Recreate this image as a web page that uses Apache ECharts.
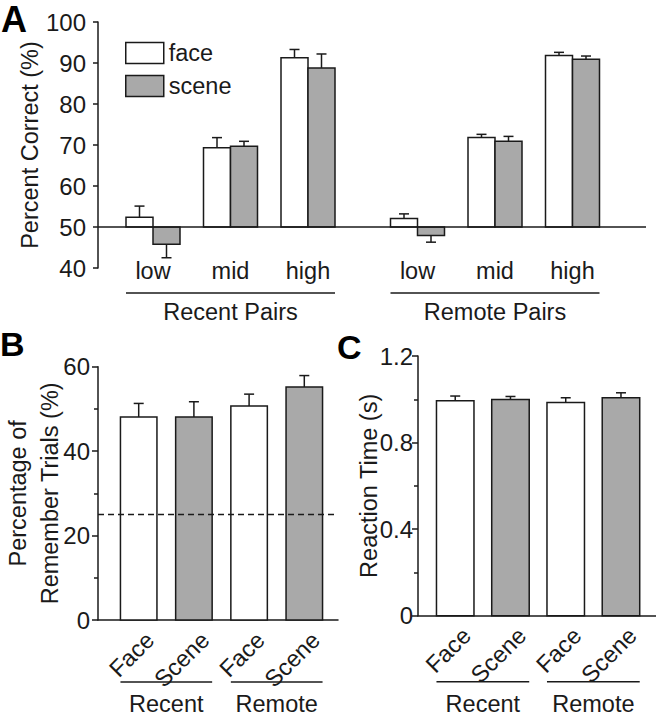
<!DOCTYPE html>
<html>
<head>
<meta charset="utf-8">
<script src="https://cdn.jsdelivr.net/npm/echarts@6/dist/echarts.min.js"></script>
<style>
html,body{margin:0;padding:0;background:#fff;}
#c{width:656px;height:719px;}
</style>
</head>
<body>
<div id="c"></div>
<script>
// ---------- Panel A data ----------
const levels = ['low', 'mid', 'high'];
const groupsA = ['Recent Pairs', 'Remote Pairs'];
const recentFace = [52.4, 69.3, 91.3];
const recentFaceErr = [2.7, 2.5, 2.0];
const recentScene = [45.8, 69.7, 88.8];
const recentSceneErr = [3.3, 1.2, 3.4];
const remoteFace = [52.1, 71.8, 91.8];
const remoteFaceErr = [1.1, 0.8, 0.8];
const remoteScene = [47.9, 70.9, 90.9];
const remoteSceneErr = [1.6, 1.2, 0.8];
const chanceA = 50;

// ---------- Panel B data ----------
const conditions = ['Face', 'Scene', 'Face', 'Scene'];
const sessions = ['Recent', 'Remote'];
const rememberPct = [48.1, 48.1, 50.7, 55.2];
const rememberErr = [3.2, 3.6, 2.8, 2.7];
const chanceB = 25;

// ---------- Panel C data ----------
const reactionTime = [0.993, 0.999, 0.985, 1.007];
const reactionErr = [0.022, 0.014, 0.022, 0.023];

// ---------- styling ----------
const FONT = "'Liberation Sans', Arial, Helvetica, sans-serif";
const INK = '#1a1a1a';
const GREY = '#a9a9a9';
const WHITE = '#ffffff';
const LW = 1.5;
const FS = 23.5;
const TFS = 24;

function barItem(api, i, v, e, base, cxOff, bw, cap, fill) {
  const top = api.coord([i, v]);
  const bot = api.coord([i, base]);
  const cx = top[0] + cxOff;
  const dir = v >= base ? 1 : -1;
  const ye = api.coord([i, v + dir * e])[1];
  return {
    type: 'group',
    children: [
      { type: 'rect', shape: { x: cx - bw / 2, y: Math.min(top[1], bot[1]), width: bw, height: Math.abs(bot[1] - top[1]) },
        style: { fill: fill, stroke: INK, lineWidth: LW } },
      { type: 'line', shape: { x1: cx, y1: top[1], x2: cx, y2: ye }, style: { stroke: INK, lineWidth: LW } },
      { type: 'line', shape: { x1: cx - cap / 2, y1: ye, x2: cx + cap / 2, y2: ye }, style: { stroke: INK, lineWidth: LW } }
    ]
  };
}

function pairBar(side, fill, base, bw, cap) {
  return function (params, api) {
    return barItem(api, api.value(0), api.value(1), api.value(2), base, side * bw / 2, bw, cap, fill);
  };
}

function singleBar(bw, cap) {
  return function (params, api) {
    const i = api.value(0);
    const fill = conditions[params.dataIndex] === 'Face' ? WHITE : GREY;
    return barItem(api, i, api.value(1), api.value(2), 0, 0, bw, cap, fill);
  };
}

function bracket(names, half, dyLine, dyText, size) {
  return function (params, api) {
    const cs = params.coordSys;
    const yb = cs.y + cs.height;
    const x0 = api.coord([api.value(0), 0])[0] - half;
    const x1 = api.coord([api.value(1), 0])[0] + half;
    return {
      type: 'group',
      children: [
        { type: 'line', shape: { x1: x0, y1: yb + dyLine, x2: x1, y2: yb + dyLine }, style: { stroke: INK, lineWidth: LW } },
        { type: 'text', x: (x0 + x1) / 2, y: yb + dyText,
          style: { text: names[params.dataIndex], fill: INK, fontSize: size, fontFamily: FONT, align: 'center', verticalAlign: 'middle' } }
      ]
    };
  };
}

const axisLine = { show: true, onZero: false, lineStyle: { color: INK, width: LW } };
const tickStyle = { color: INK, width: LW };
const hiddenY = (g, min, max) => ({ gridIndex: g, type: 'value', min: min, max: max, show: false });
const hiddenCat = (g, data) => ({ gridIndex: g, type: 'category', data: data, show: false });
const rotCat = (g) => ({
  gridIndex: g, type: 'category', data: conditions,
  axisLine: { show: false }, axisTick: { show: false },
  axisLabel: { rotate: 45, interval: 0, fontSize: FS, lineHeight: FS, margin: 16, color: INK, fontFamily: FONT }
});
const baseX = (g) => ({
  gridIndex: g, type: 'value', min: 0, max: 1,
  axisLine: axisLine, axisTick: { show: false }, axisLabel: { show: false }, splitLine: { show: false }
});
const groupCat = (g) => ({
  gridIndex: g, type: 'category', data: levels,
  axisLine: { show: false }, axisTick: { show: false },
  axisLabel: { interval: 0, fontSize: FS, lineHeight: FS, margin: -9, color: INK, fontFamily: FONT }
});

const option = {
  animation: false,
  textStyle: { fontFamily: FONT, color: INK },
  title: [
    { text: 'A', left: 1, top: 1, padding: 0, textStyle: { fontSize: 36, fontWeight: 'bold', color: '#000', fontFamily: FONT, lineHeight: 36 } },
    { text: 'B', left: 0, top: 327, padding: 0, textStyle: { fontSize: 34, fontWeight: 'bold', color: '#000', fontFamily: FONT, lineHeight: 34 } },
    { text: 'C', left: 337, top: 330, padding: 0, textStyle: { fontSize: 34, fontWeight: 'bold', color: '#000', fontFamily: FONT, lineHeight: 34 } }
  ],
  legend: {
    data: [
      { name: 'face', icon: 'rect', itemStyle: { color: WHITE, borderColor: INK, borderWidth: LW } },
      { name: 'scene', icon: 'rect', itemStyle: { color: GREY, borderColor: INK, borderWidth: LW } }
    ],
    orient: 'vertical', left: 125, top: 41, padding: 0,
    itemWidth: 38, itemHeight: 21, itemGap: 9, selectedMode: false,
    textStyle: { fontSize: FS, color: INK, fontFamily: FONT }
  },
  grid: [
    { left: 98, top: 22, width: 548, height: 246, outerBoundsMode: 'none' },
    { left: 114.25, top: 22, width: 232.5, height: 246, outerBoundsMode: 'none' },
    { left: 378.75, top: 22, width: 232.5, height: 246, outerBoundsMode: 'none' },
    { left: 98, top: 366.7, width: 240, height: 253.3, outerBoundsMode: 'none' },
    { left: 111.1, top: 366.7, width: 220.8, height: 253.3, outerBoundsMode: 'none' },
    { left: 122.6, top: 366.7, width: 220.8, height: 253.3, outerBoundsMode: 'none' },
    { left: 418, top: 356, width: 238, height: 259.7, outerBoundsMode: 'none' },
    { left: 427.6, top: 356, width: 221, height: 259.7, outerBoundsMode: 'none' },
    { left: 439.1, top: 356, width: 221, height: 259.7, outerBoundsMode: 'none' }
  ],
  xAxis: [
    { gridIndex: 0, type: 'value', min: 0, max: 1, show: false },
    groupCat(1),
    groupCat(2),
    baseX(3),
    hiddenCat(4, conditions),
    rotCat(5),
    baseX(6),
    hiddenCat(7, conditions),
    rotCat(8)
  ],
  yAxis: [
    { gridIndex: 0, type: 'value', min: 40, max: 100, interval: 10,
      axisLine: axisLine, axisTick: { show: true, length: 5, lineStyle: tickStyle },
      axisLabel: { fontSize: TFS, margin: 12, color: INK, fontFamily: FONT }, splitLine: { show: false },
      name: 'Percent Correct (%)', nameLocation: 'middle', nameGap: 55, nameMoveOverlap: false,
      nameTextStyle: { fontSize: FS, lineHeight: 26, color: INK, fontFamily: FONT } },
    hiddenY(1, 40, 100),
    hiddenY(2, 40, 100),
    { gridIndex: 3, type: 'value', min: 0, max: 60, interval: 20,
      axisLine: axisLine, axisTick: { show: true, length: 6, lineStyle: tickStyle },
      minorTick: { show: true, splitNumber: 2, length: 4, lineStyle: tickStyle },
      axisLabel: { fontSize: TFS, margin: 8, color: INK, fontFamily: FONT },
      splitLine: { show: false }, minorSplitLine: { show: false },
      name: 'Percentage of\nRemember Trials (%)', nameLocation: 'middle', nameGap: 32, nameMoveOverlap: false,
      nameTextStyle: { fontSize: FS, lineHeight: 32, color: INK, fontFamily: FONT } },
    hiddenY(4, 0, 60),
    hiddenY(5, 0, 60),
    { gridIndex: 6, type: 'value', min: 0, max: 1.2, interval: 0.4,
      axisLine: axisLine, axisTick: { show: true, length: 6, lineStyle: tickStyle },
      minorTick: { show: true, splitNumber: 2, length: 4, lineStyle: tickStyle },
      axisLabel: { fontSize: TFS, margin: 5, color: INK, fontFamily: FONT },
      splitLine: { show: false }, minorSplitLine: { show: false },
      name: 'Reaction Time (s)', nameLocation: 'middle', nameGap: 36, nameMoveOverlap: false,
      nameTextStyle: { fontSize: FS, lineHeight: 26, color: INK, fontFamily: FONT } },
    hiddenY(7, 0, 1.2),
    hiddenY(8, 0, 1.2)
  ],
  series: [
    // Panel A
    { type: 'line', xAxisIndex: 0, yAxisIndex: 0, data: [[0, chanceA], [1, chanceA]], symbol: 'none', silent: true,
      lineStyle: { color: INK, width: LW } },
    { name: 'face', type: 'custom', xAxisIndex: 1, yAxisIndex: 1,
      data: recentFace.map((v, i) => [i, v, recentFaceErr[i]]), renderItem: pairBar(-1, WHITE, chanceA, 27, 10) },
    { name: 'scene', type: 'custom', xAxisIndex: 1, yAxisIndex: 1,
      data: recentScene.map((v, i) => [i, v, recentSceneErr[i]]), renderItem: pairBar(1, GREY, chanceA, 27, 10) },
    { name: 'face', type: 'custom', xAxisIndex: 2, yAxisIndex: 2,
      data: remoteFace.map((v, i) => [i, v, remoteFaceErr[i]]), renderItem: pairBar(-1, WHITE, chanceA, 27, 10) },
    { name: 'scene', type: 'custom', xAxisIndex: 2, yAxisIndex: 2,
      data: remoteScene.map((v, i) => [i, v, remoteSceneErr[i]]), renderItem: pairBar(1, GREY, chanceA, 27, 10) },
    { name: 'groupRecent', type: 'custom', xAxisIndex: 1, yAxisIndex: 1, silent: true,
      data: [[0, levels.length - 1]], renderItem: bracket([groupsA[0]], 27, 25, 44, FS) },
    { name: 'groupRemote', type: 'custom', xAxisIndex: 2, yAxisIndex: 2, silent: true,
      data: [[0, levels.length - 1]], renderItem: bracket([groupsA[1]], 27, 25, 44, FS) },
    // Panel B
    { name: 'remember', type: 'custom', xAxisIndex: 4, yAxisIndex: 4,
      data: rememberPct.map((v, i) => [i, v, rememberErr[i]]), renderItem: singleBar(36.5, 10) },
    { type: 'line', xAxisIndex: 3, yAxisIndex: 3, data: [[0, chanceB], [1, chanceB]], symbol: 'none', silent: true, z: 5,
      lineStyle: { color: INK, width: LW, type: [6, 4] } },
    { name: 'sessionB', type: 'custom', xAxisIndex: 4, yAxisIndex: 4, silent: true,
      data: [[0, 1], [2, 3]], renderItem: bracket(sessions, 18.25, 62, 84, FS) },
    // Panel C
    { name: 'rt', type: 'custom', xAxisIndex: 7, yAxisIndex: 7,
      data: reactionTime.map((v, i) => [i, v, reactionErr[i]]), renderItem: singleBar(37.5, 10) },
    { name: 'sessionC', type: 'custom', xAxisIndex: 7, yAxisIndex: 7, silent: true,
      data: [[0, 1], [2, 3]], renderItem: bracket(sessions, 18.75, 66, 88, FS) }
  ]
};

const chart = echarts.init(document.getElementById('c'), null, { renderer: 'svg' });
chart.setOption(option);
</script>
</body>
</html>
